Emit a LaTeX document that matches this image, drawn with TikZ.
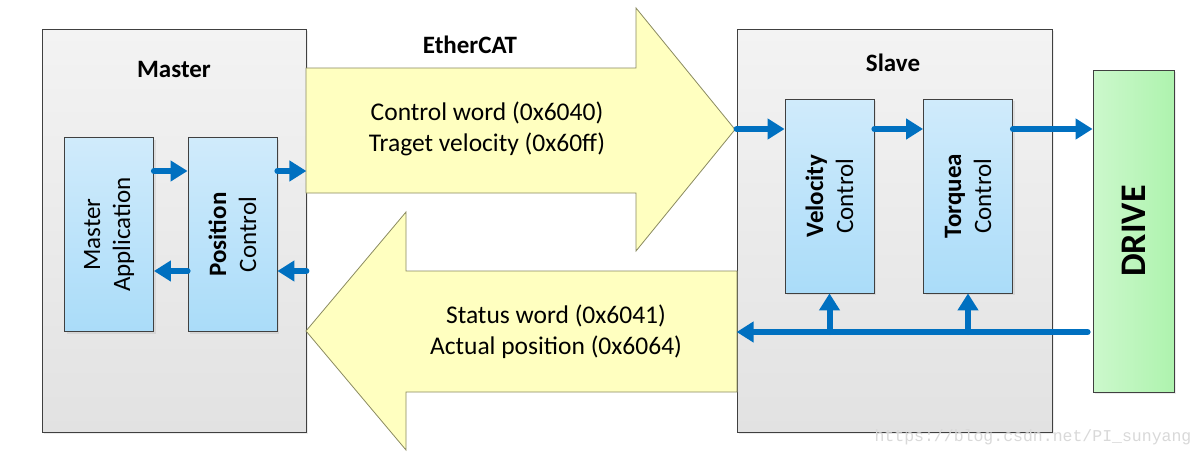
\documentclass[tikz,border=0pt]{standalone}
\usepackage{fontspec}
\setmainfont{Carlito}
\newfontfamily\wmfont{Liberation Mono}
\usetikzlibrary{arrows.meta,shadows}
\definecolor{flowblue}{HTML}{0070C0}
\definecolor{panelhi}{HTML}{F3F3F3}
\definecolor{panello}{HTML}{E2E2E2}
\definecolor{ctrlhi}{HTML}{D0EBFB}
\definecolor{ctrllo}{HTML}{AADCF9}
\definecolor{drivehi}{HTML}{CCF8CC}
\definecolor{drivelo}{HTML}{AEF3AE}
\definecolor{busfill}{HTML}{FFFFC0}
\definecolor{busline}{HTML}{8A8A60}
\tikzset{
	panel/.style={draw=black!75, line width=0.8pt, top color=panelhi, bottom color=panello, inner sep=0pt,
		drop shadow={shadow xshift=2pt, shadow yshift=-2pt, opacity=0.15}},
	ctrl/.style={draw=black!75, line width=0.8pt, top color=ctrlhi, bottom color=ctrllo, inner sep=0pt,
		minimum width=89pt, minimum height=194pt, drop shadow={shadow xshift=2pt, shadow yshift=-2pt, opacity=0.15}},
	ctrltext/.style={rotate=90, align=center, inner sep=0pt, font=\fontsize{25}{30}\selectfont},
	title/.style={font=\fontsize{25}{30}\selectfont\bfseries, inner sep=0pt},
	bus/.style={draw=busline, line width=0.8pt, fill=busfill, line join=miter},
	bustext/.style={align=center, inner sep=0pt, font=\fontsize{25.5}{31}\selectfont},
	flow/.style={draw=flowblue, line width=6pt, line cap=round, -{Triangle[length=17pt,width=20pt]}},
	wm/.style={text=black!15, inner sep=0pt, font=\wmfont\fontsize{16.5}{18}\selectfont}
}
\begin{document}
\begin{tikzpicture}[x=1pt,y=-1pt]
	\useasboundingbox[fill=white] (0,0) rectangle (1204,455);

	\node[panel, minimum width=264pt, minimum height=403pt] (master) at (174,230.5) {};
	\node[title] (master-t) at (174,69) {Master};
	\node[ctrl] (ma) at (109,234.5) {};
	\node[ctrltext] (ma-t) at (ma) {Master\\Application};
	\node[ctrl] (pc) at (232.5,234.5) {};
	\node[ctrltext] (pc-t) at (pc) {\textbf{Position}\\Control};

	\node[panel, minimum width=315pt, minimum height=403pt] (slave) at (894.5,230.5) {};
	\node[title] (slave-t) at (893,63) {Slave};
	\node[ctrl] (vc) at (829.5,196) {};
	\node[ctrltext] (vc-t) at (vc) {\textbf{Velocity}\\Control};
	\node[ctrl] (tc) at (968,196) {};
	\node[ctrltext] (tc-t) at (tc) {\textbf{Torquea}\\Control};

	\node[draw=black!75, line width=0.8pt, left color=drivehi, right color=drivelo, minimum width=81pt, minimum height=322pt,
		drop shadow={shadow xshift=2pt, shadow yshift=-2pt, opacity=0.15}] (drive) at (1133.5,231) {};
	\node[rotate=90, inner sep=0pt, font=\fontsize{36}{40}\selectfont\bfseries] (drive-t) at (drive) {DRIVE};

	\draw[bus] (306,68) -- (636,68) -- (636,8) -- (735,129.5) -- (636,251) -- (636,193) -- (306,193) -- cycle;
	\draw[bus] (737,271) -- (406,271) -- (406,212) -- (306,331) -- (406,450) -- (406,392) -- (737,392) -- cycle;
	\node[title] (ecat) at (470,45) {EtherCAT};
	\node[bustext] (cmd) at (487,129) {Control word (0x6040)\\Traget velocity (0x60ff)};
	\node[bustext] (sts) at (556,332) {Status word (0x6041)\\Actual position (0x6064)};

	\coordinate (fwd) at (0,171);
	\coordinate (bwd) at (0,271);
	\coordinate (srow) at (0,129);
	\coordinate (fb) at (0,332);
	\draw[flow] (ma.east |- fwd) -- (pc.west |- fwd);
	\draw[flow] (pc.east |- fwd) -- (master.east |- fwd);
	\draw[flow] (master.east |- bwd) -- (pc.east |- bwd);
	\draw[flow] (pc.west |- bwd) -- (ma.east |- bwd);

	\draw[flow] (slave.west |- srow) -- (vc.west |- srow);
	\draw[flow] (vc.east |- srow) -- (tc.west |- srow);
	\draw[flow] (tc.east |- srow) -- (drive.west |- srow);
	\draw[flow, shorten <=5pt] (drive.west |- fb) -- (slave.west |- fb);
	\draw[flow] (vc.south |- fb) -- (vc.south);
	\draw[flow] (tc.south |- fb) -- (tc.south);

	\node[wm] (url) at (1033,437) {https://blog.csdn.net/PI\_sunyang};
\end{tikzpicture}
\end{document}
